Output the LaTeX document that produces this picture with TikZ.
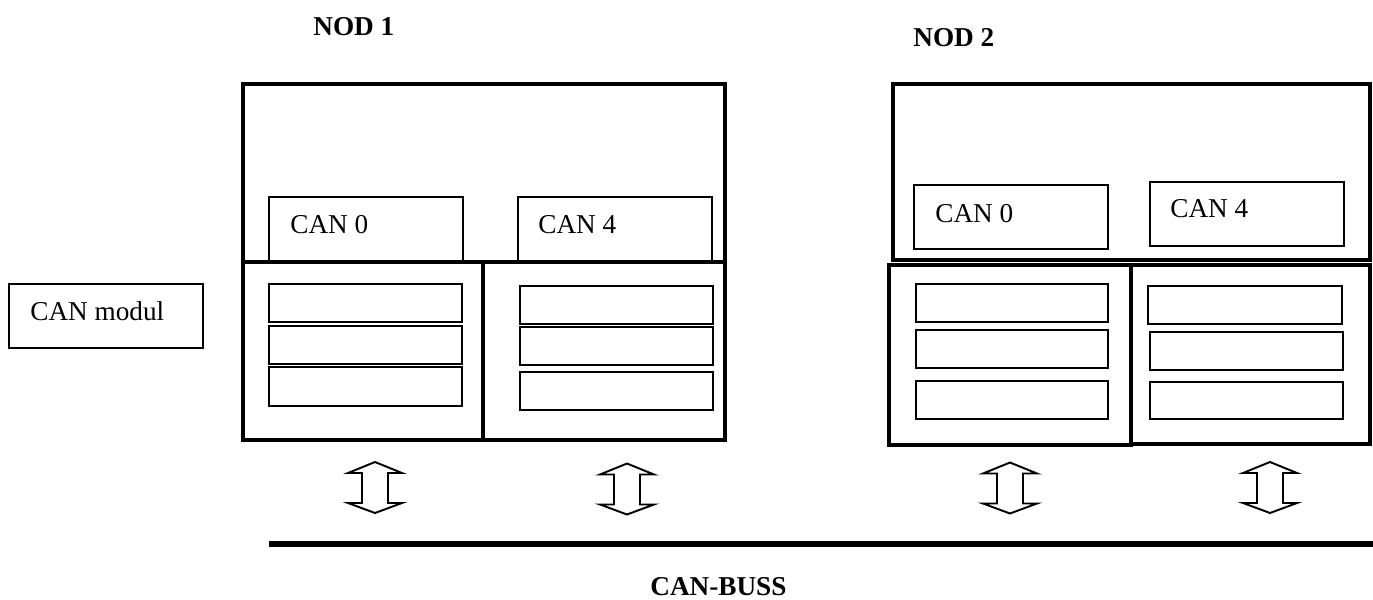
\documentclass[tikz,border=0pt]{standalone}
\usepackage{fontspec}
\setmainfont{Liberation Serif}
\usetikzlibrary{positioning}

\begin{document}
\begin{tikzpicture}[x=0.02cm,y=-0.02cm]
    \tikzstyle{frame}=[draw=black,line width=2.8pt]
    \tikzstyle{slot}=[draw=black,line width=0.8pt]
    \tikzstyle{label}=[anchor=base west,inner sep=0pt,font=\fontsize{15.5}{18}\selectfont]
    \tikzstyle{title}=[anchor=base west,inner sep=0pt,font=\fontsize{15.5}{18}\selectfont\bfseries]
    \tikzstyle{bus}=[draw=black,line width=3.4pt]
    \tikzset{busarrow/.pic={
        \draw[line width=1.1pt,line join=miter,fill=white]
            (0,-25.5) -- (27,-14.5) -- (13,-14.5) -- (13,15.5) -- (27,15.5) -- (0,25.5)
            -- (-27,15.5) -- (-13,15.5) -- (-13,-14.5) -- (-27,-14.5) -- cycle;}}

    \useasboundingbox (0,0) rectangle (1373,599);

    % titles
    \node[title] (nod1) at (313,35) {NOD 1};
    \node[title] (nod2) at (913,46) {NOD 2};

    % CAN modul
    \draw[slot] (9,284) rectangle (203,348);
    \node[label] (modul) at (30,320) {CAN modul};

    % NOD 1
    \draw[slot] (269,197) rectangle (463,262);
    \draw[slot] (518,197) rectangle (712,262);
    \node[label] (can0a) at (290,233) {CAN 0};
    \node[label] (can4a) at (538,233) {CAN 4};
    \draw[slot] (269,284) rectangle (462,322);
    \draw[slot] (269,326) rectangle (462,364);
    \draw[slot] (269,367) rectangle (462,406);
    \draw[slot] (520,286) rectangle (713,324);
    \draw[slot] (520,327) rectangle (713,365);
    \draw[slot] (520,372) rectangle (713,410);
    \draw[frame] (243,84) rectangle (725,262);
    \draw[frame] (243,262) rectangle (483,440);
    \draw[frame] (483,262) rectangle (725,440);

    % NOD 2
    \draw[slot] (914,185) rectangle (1108,249);
    \draw[slot] (1150,182) rectangle (1344,246);
    \node[label] (can0b) at (935,222) {CAN 0};
    \node[label] (can4b) at (1170,217) {CAN 4};
    \draw[slot] (916,284) rectangle (1108,322);
    \draw[slot] (916,330) rectangle (1108,368);
    \draw[slot] (916,381) rectangle (1108,419);
    \draw[slot] (1148,286) rectangle (1342,324);
    \draw[slot] (1150,332) rectangle (1343,370);
    \draw[slot] (1150,382) rectangle (1343,419);
    \draw[frame] (893,84) rectangle (1370,260);
    \draw[frame] (889,265) rectangle (1131,445);
    \draw[frame] (1131,265) rectangle (1370,444);

    % bus
    \pic at (375,487.5) {busarrow};
    \pic at (627,489) {busarrow};
    \pic at (1010,488) {busarrow};
    \pic at (1270,487.5) {busarrow};
    \coordinate (busL) at (269,544);
    \coordinate (busR) at (1373,544);
    \draw[bus] (busL) -- (busR);
    \node[title] (buss) at (650,595) {CAN-BUSS};
\end{tikzpicture}
\end{document}
